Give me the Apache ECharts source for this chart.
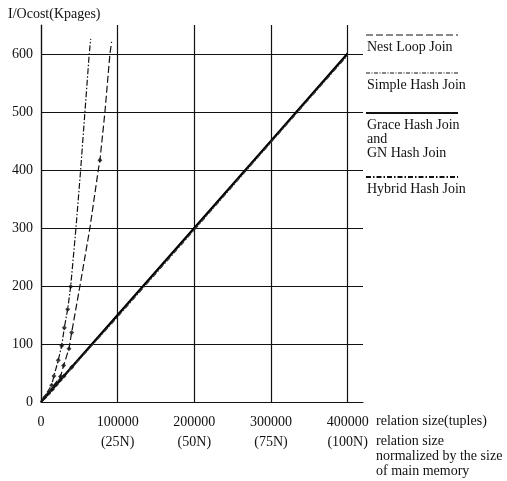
<!DOCTYPE html>
<html>
<head>
<meta charset="utf-8">
<script src="https://cdn.jsdelivr.net/npm/echarts@6/dist/echarts.min.js"></script>
<style>
  html, body { margin: 0; padding: 0; background: #fff; }
  #chart { width: 507px; height: 481px; }
</style>
</head>
<body>
<div id="chart"></div>
<script>
// tick labels
const xTicks = [0, 100000, 200000, 300000, 400000]
const xNormLabels = ['', '(25N)', '(50N)', '(75N)', '(100N)']

// series values [relation size, I/O cost]
const nestLoopLine = [[0, 0], [25500, 44], [29500, 63], [36500, 92], [40000, 120], [50800, 200],
  [63800, 300], [74700, 400], [76900, 417], [83400, 500], [89900, 600], [92100, 621]]
const nestLoopPoints = [[25500, 44], [29500, 63], [36500, 92], [40000, 120], [76900, 417]]

const simpleHashLine = [[0, 0], [13900, 29], [16900, 45], [22500, 72], [27000, 97], [30400, 128],
  [34800, 160], [38700, 199], [45600, 300], [51700, 400], [57300, 500], [62900, 600], [64800, 626]]
const simpleHashPoints = [[13900, 29], [16900, 45], [22500, 72], [27000, 97], [30400, 128],
  [34800, 160], [38700, 199]]

const graceLine = [[0, 0], [100000, 150], [200000, 300], [300000, 450], [400000, 601]]
const gracePoints = [[5000, 8], [10000, 15], [15000, 22], [20000, 30], [25000, 38], [30000, 45], [40000, 60]]

const hybridLine = [[0, 0], [100000, 147], [200000, 297], [300000, 448], [400000, 598]]

const font = "'Liberation Serif', 'Times New Roman', serif"
const ink = '#111'

const legendItems = [
  { y: 35, dash: [7, 3], width: 1.2, lines: ['Nest Loop Join'] },
  { y: 73, dash: [4, 1.5, 1, 1.5], width: 1.2, lines: ['Simple Hash Join'] },
  { y: 113, dash: 'solid', width: 2, lines: ['Grace Hash Join', 'and', 'GN Hash Join'] },
  { y: 177, dash: [5, 2, 1.5, 2], width: 2, lines: ['Hybrid Hash Join'] }
]

let graphics = []
legendItems.forEach(item => {
  graphics.push({
    type: 'line',
    shape: { x1: 366, y1: item.y, x2: 458, y2: item.y },
    style: { stroke: ink, lineWidth: item.width, lineDash: item.dash === 'solid' ? null : item.dash }
  })
  item.lines.forEach((t, i) => {
    graphics.push({
      type: 'text', x: 367, y: item.y + 12 + i * 14,
      style: { text: t, font: '14px ' + font, fill: ink, textVerticalAlign: 'middle' }
    })
  })
})
graphics.push(
  { type: 'text', x: 8, y: 14, style: { text: 'I/Ocost(Kpages)', font: '14px ' + font, fill: ink, textVerticalAlign: 'middle' } },
  { type: 'text', x: 376, y: 421, style: { text: 'relation size(tuples)', font: '14px ' + font, fill: ink, textVerticalAlign: 'middle' } },
  { type: 'text', x: 376, y: 441, style: { text: 'relation size', font: '14px ' + font, fill: ink, textVerticalAlign: 'middle' } },
  { type: 'text', x: 376, y: 456, style: { text: 'normalized by the size', font: '14px ' + font, fill: ink, textVerticalAlign: 'middle' } },
  { type: 'text', x: 376, y: 471, style: { text: 'of main memory', font: '14px ' + font, fill: ink, textVerticalAlign: 'middle' } }
)

const markStyle = { type: 'scatter', symbol: 'diamond', symbolSize: 5, itemStyle: { color: ink }, z: 3 }

let option = {
  animation: false,
  backgroundColor: '#fff',
  grid: { left: 41, right: 144, top: 25, bottom: 79 },
  xAxis: {
    type: 'value',
    min: 0,
    max: 420000,
    interval: 100000,
    axisLine: { show: true, lineStyle: { color: ink, width: 1.2 } },
    axisTick: { show: false },
    splitLine: { show: true, showMaxLine: false, lineStyle: { color: ink, width: 1.2 } },
    axisLabel: {
      showMaxLabel: false,
      margin: 10,
      lineHeight: 20,
      color: ink,
      fontFamily: font,
      fontSize: 14,
      formatter: v => {
        let i = xTicks.indexOf(v)
        if (i <= 0) return String(v)
        return v + '\n' + xNormLabels[i]
      }
    }
  },
  yAxis: {
    type: 'value',
    min: 0,
    max: 650,
    interval: 100,
    axisLine: { show: true, lineStyle: { color: ink, width: 1.2 } },
    axisTick: { show: false },
    splitLine: { show: true, showMaxLine: false, lineStyle: { color: ink, width: 1 } },
    axisLabel: { showMaxLabel: false, margin: 8, color: ink, fontFamily: font, fontSize: 14 }
  },
  graphic: graphics,
  series: [
    { name: 'Grace Hash Join and GN Hash Join', type: 'line', data: graceLine, showSymbol: false,
      lineStyle: { color: '#000', width: 2.4 } },
    { name: 'Hybrid Hash Join', type: 'line', data: hybridLine, showSymbol: false,
      lineStyle: { color: '#333', width: 1.4, type: [5, 2, 1.5, 2] } },
    { name: 'Simple Hash Join', type: 'line', data: simpleHashLine, showSymbol: false,
      lineStyle: { color: ink, width: 1.2, type: [6, 2, 1.5, 2] } },
    { name: 'Nest Loop Join', type: 'line', data: nestLoopLine, showSymbol: false,
      lineStyle: { color: ink, width: 1.2, type: [7, 3] } },
    Object.assign({ name: 'Simple Hash Join', data: simpleHashPoints }, markStyle),
    Object.assign({ name: 'Nest Loop Join', data: nestLoopPoints }, markStyle),
    Object.assign({ name: 'Grace Hash Join and GN Hash Join', data: gracePoints }, markStyle)
  ]
}

let chart = echarts.init(document.getElementById('chart'))
chart.setOption(option)
</script>
</body>
</html>
